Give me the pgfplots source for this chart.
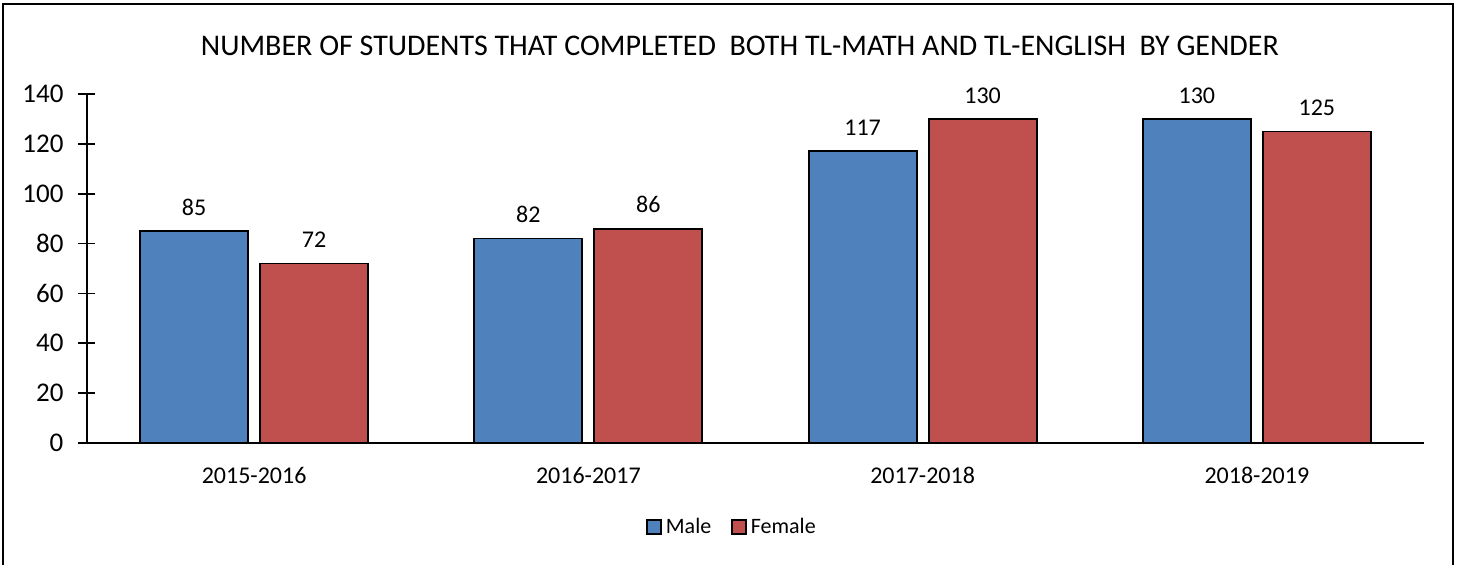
\documentclass[border=0pt]{standalone}
\usepackage{pgfplots}
\pgfplotsset{compat=1.18}
\usepackage{fontspec}
\setmainfont{Carlito}
\definecolor{mblue}{HTML}{4F81BD}
\definecolor{fred}{HTML}{C0504D}
\begin{document}
\begin{tikzpicture}
\useasboundingbox (-43.5pt,-60.5pt) rectangle (685.5pt,221.5pt);
\draw[line width=1.1pt] (-42pt,-62pt) -- (-42pt,219.5pt) -- (683pt,219.5pt) -- (683pt,-62pt);
\node[font=\fontsize{15}{17}\selectfont] at (326.5pt,198.5pt) {NUMBER OF STUDENTS THAT COMPLETED~ BOTH TL-MATH AND TL-ENGLISH~ BY GENDER};
\begin{axis}[
  at={(0,0)}, anchor=south west,
  scale only axis,
  width=668.5pt, height=174.5pt,
  xmin=-0.5, xmax=3.5,
  ymin=0, ymax=140,
  ytick={0,20,...,140},
  xtick={0,1,2,3},
  xticklabels={2015-2016,2016-2017,2017-2018,2018-2019},
  axis x line*=bottom,
  axis y line*=left,
  x axis line style={-},
  y axis line style={-},
  xtick style={draw=none},
  ytick style={black, line width=0.8pt},
  major tick length=8.5pt,
  tick align=center,
  axis line style={line width=0.8pt},
  ybar=6pt,
  bar width=54pt,
  ticklabel style={font=\fontsize{12}{14}\selectfont},
  yticklabel style={font=\fontsize{13.5}{15}\selectfont, xshift=-4pt},
  xticklabel style={yshift=0pt},
  /pgf/number format/assume math mode=true,
  nodes near coords,
  nodes near coords style={font=\fontsize{12}{14}\selectfont, black, yshift=4pt},
  legend style={at={(323pt,-42pt)}, anchor=center, draw=none, legend columns=2, font=\fontsize{11}{13}\selectfont, /tikz/every even column/.append style={column sep=8pt}},
  legend image code/.code={\draw[#1, draw=black, line width=0.8pt] (0pt,-3.5pt) rectangle (7pt,3.5pt);},
  legend cell align=left,
]
\addplot[fill=mblue, draw=black, line width=0.9pt] coordinates {(0,85) (1,82) (2,117) (3,130)};
\addplot[fill=fred, draw=black, line width=0.9pt] coordinates {(0,72) (1,86) (2,130) (3,125)};
\legend{Male,Female}
\end{axis}
\end{tikzpicture}
\end{document}
